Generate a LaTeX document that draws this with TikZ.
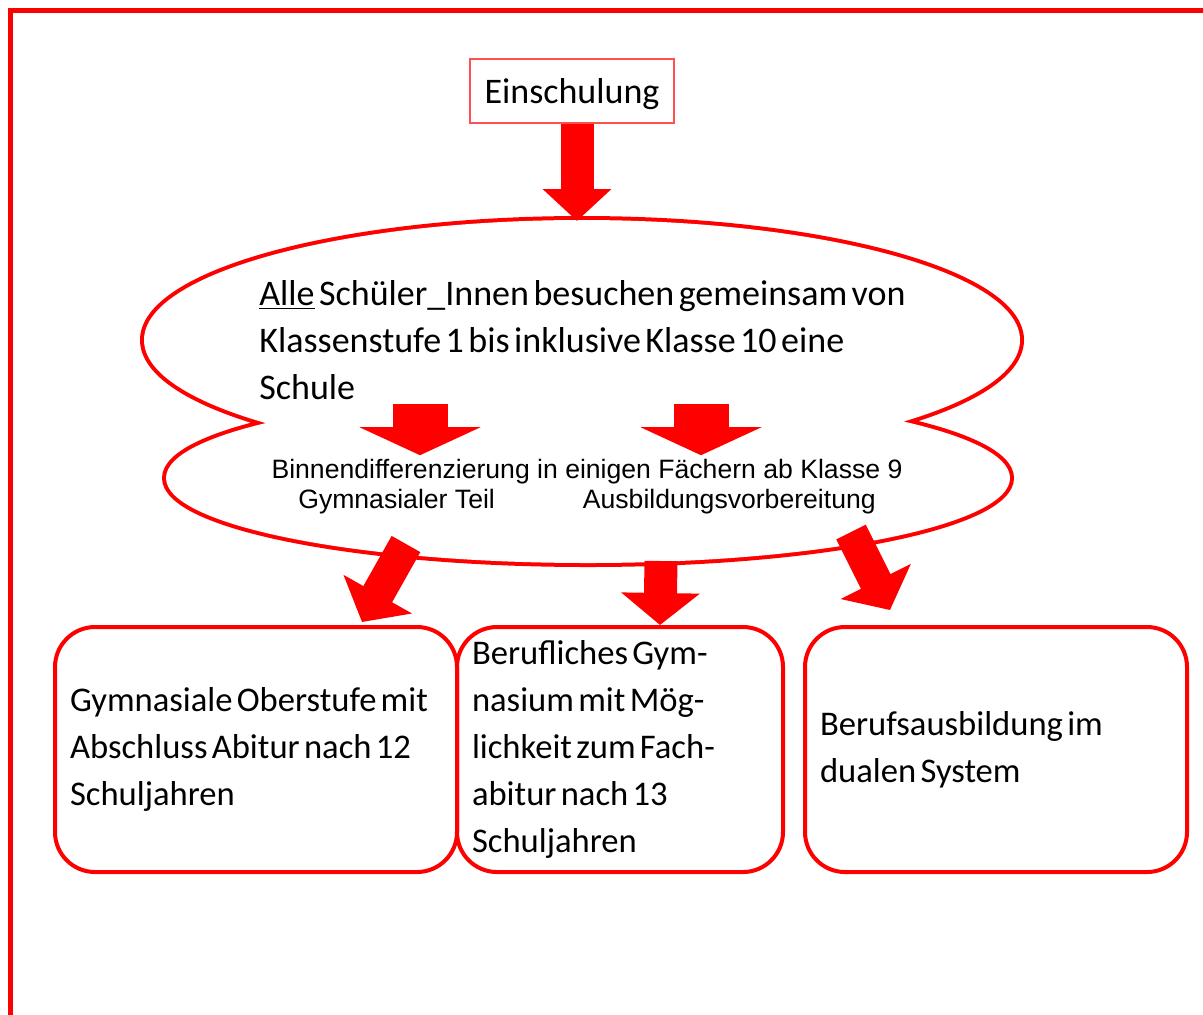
\documentclass[tikz,border=0pt]{standalone}
\usepackage{fontspec}
\setmainfont{Carlito}[WordSpace=0.55]
\newfontfamily\arialfont{Liberation Sans}
\usetikzlibrary{arrows.meta,positioning}
\definecolor{rot}{RGB}{255,0,0}
\definecolor{hellrot}{RGB}{255,80,80}

\begin{document}
\begin{tikzpicture}[
 x=0.5pt,y=-0.5pt,
 kasten/.style={draw=rot,line width=2pt,rounded corners=20pt,align=flush left,
              minimum height=122.5pt,inner xsep=7.5pt,font=\fontsize{17.3}{23.5}\selectfont},
 startkasten/.style={draw=hellrot,line width=1pt,minimum width=102pt,minimum height=32pt,
              text depth=0pt,font=\fontsize{18}{23.5}\selectfont},
 wolkentext/.style={align=left,inner sep=2pt,font=\fontsize{18}{23.5}\selectfont},
 binnentext/.style={align=center,inner sep=2pt,font=\arialfont\fontsize{13.3}{15}\selectfont},
 pfeil/.style={rot,line width=16.5pt,-{Triangle[width=38.5pt,length=16pt]}},
 kopfpfeil/.style={rot,line width=16.5pt,-{Triangle[width=33.5pt,length=16pt]}},
 innenpfeil/.style={rot,line width=27.5pt,-{Triangle[width=60pt,length=14pt]}}
]
\useasboundingbox (0,0) rectangle (1203,1014);
\draw[rot,line width=2.5pt] (10.5,10.5) rectangle (1240,1050);

\draw[rot,line width=4pt] (582,340) ellipse [x radius=438,y radius=120]
                         (588,478) ellipse [x radius=422,y radius=85];
\fill[white] (582,340) ellipse [x radius=438,y radius=120]
             (588,478) ellipse [x radius=422,y radius=85];

\node[startkasten] (einschulung) at (572,91) {Einschulung};
\node[wolkentext,anchor=west] (alle) at (255,340)
 {\underline{Alle} Schüler\_Innen besuchen gemeinsam von\\
  Klassenstufe 1 bis inklusive Klasse 10 eine\\
  Schule};
\node[binnentext] (binnen) at (587,487)
 {Binnendifferenzierung in einigen Fächern ab Klasse 9\\
  Gymnasialer Teil\hspace{44pt}Ausbildungsvorbereitung};

\node[kasten,minimum width=201pt,text width=186pt] (gym) at (256,749.5)
 {Gymnasiale Oberstufe mit\\Abschluss Abitur nach 12\\Schuljahren};
\node[kasten,minimum width=163pt,text width=148pt,right=-2pt of gym] (berufgym)
 {Berufliches Gym-\\nasium mit Mög-\\lichkeit zum Fach-\\abitur nach 13\\Schuljahren};
\node[kasten,minimum width=191pt,text width=176pt,right=9pt of berufgym] (beruf)
 {Berufsausbildung im\\dualen System};

\coordinate (wolkeoben) at (577,221);
\coordinate (gl) at (420,400);
\coordinate (al) at (701,400);
\coordinate (wl) at (406,544);
\coordinate (wm) at (661,561);
\coordinate (wr) at (851,532);

\draw[kopfpfeil] (einschulung.south -| wolkeoben) -- (wolkeoben);
\draw[innenpfeil] (gl |- alle.south) -- (gl |- binnen.north);
\draw[innenpfeil] (al |- alle.south) -- (al |- binnen.north);
\draw[pfeil] (wl) -- ([xshift=53pt,yshift=1.5pt]gym.north);
\draw[pfeil] (wm) -- ([xshift=20pt]berufgym.north);
\draw[pfeil] (wr) -- ([xshift=-53pt,yshift=7.5pt]beruf.north);
\end{tikzpicture}
\end{document}
